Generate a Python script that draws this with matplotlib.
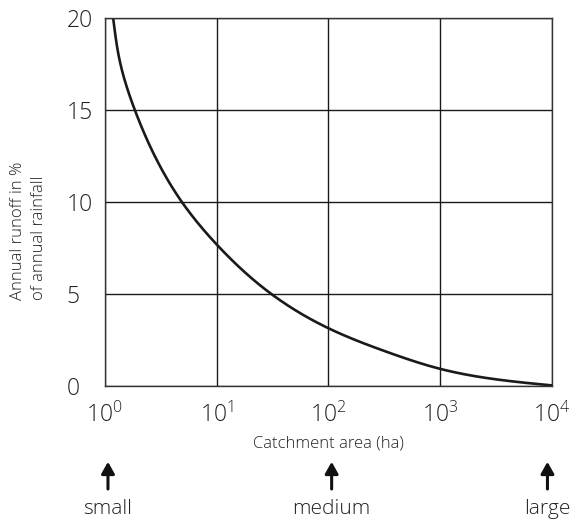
import numpy as np
import matplotlib
matplotlib.use("Agg")
import matplotlib.pyplot as plt

# curve
area = [1.19, 1.36, 1.86, 4.9, 10, 30.9, 100, 331, 1000, 3162, 10000]
runoff = [20, 17.7, 15, 10, 7.7, 5, 3.14, 1.86, 0.93, 0.36, 0.03]

xticks = [1, 10, 100, 1000, 10000]
xlabels = ["$10^{0}$", "$10^{1}$", "$10^{2}$", "$10^{3}$", "$10^{4}$"]
yticks = [0, 5, 10, 15, 20]

sizes = ["small", "medium", "large"]
size_pos = [1.07, 107, 9100]


def natural_spline(t, y, tn):
    """Natural cubic spline through (t, y)."""
    t = np.asarray(t, float)
    y = np.asarray(y, float)
    n = len(t)
    h = np.diff(t)
    d = np.diff(y) / h
    A = np.zeros((n, n))
    b = np.zeros(n)
    A[0, 0] = 1.0
    A[-1, -1] = 1.0
    for i in range(1, n - 1):
        A[i, i - 1] = h[i - 1]
        A[i, i] = 2 * (h[i - 1] + h[i])
        A[i, i + 1] = h[i]
        b[i] = 6 * (d[i] - d[i - 1])
    M = np.linalg.solve(A, b)
    out = np.empty_like(tn)
    for j, tv in enumerate(tn):
        k = int(np.clip(np.searchsorted(t, tv) - 1, 0, n - 2))
        a = t[k + 1] - tv
        c = tv - t[k]
        out[j] = (M[k] * a**3 / (6 * h[k]) + M[k + 1] * c**3 / (6 * h[k])
                  + (y[k] / h[k] - M[k] * h[k] / 6) * a
                  + (y[k + 1] / h[k] - M[k + 1] * h[k] / 6) * c)
    return out


plt.rcParams['font.family'] = ['Open Sans', 'DejaVu Sans']
plt.rcParams['font.weight'] = 'light'
plt.rcParams['mathtext.fontset'] = 'custom'
plt.rcParams['mathtext.rm'] = 'Open Sans:light'
plt.rcParams['mathtext.it'] = 'Open Sans:light'

fig = plt.figure(figsize=(5.73, 5.24), dpi=100)
ax = fig.add_axes([0.1827, 0.2634, 0.7807, 0.7022])

# smooth parametric curve (chord length in roughly screen-scaled units)
lx = np.log10(area)
px = lx * 112.0
py = np.asarray(runoff) * 18.4
t = np.concatenate([[0], np.cumsum(np.hypot(np.diff(px), np.diff(py)))])
tn = np.linspace(0, t[-1], 800)
xs = natural_spline(t, lx, tn)
ys = natural_spline(t, runoff, tn)
ax.plot(10**xs, ys, color='#1a1a1a', lw=1.9, solid_capstyle='butt')

ax.set_xscale('log')
ax.set_xlim(1, 10000)
ax.set_ylim(0, 20)
ax.set_xticks(xticks)
ax.set_xticklabels(xlabels)
ax.minorticks_off()
ax.set_yticks(yticks)
ax.tick_params(length=0, labelsize=16.5, colors='#222222')
ax.tick_params(axis='x', pad=12)
ax.tick_params(axis='y', pad=27.5)
for lab in ax.get_yticklabels():
    lab.set_ha('left')
ax.grid(True, color='#1a1a1a', lw=1.0)
for s in ax.spines.values():
    s.set_color('#333333')
    s.set_linewidth(1.0)

fig.text(0.5725, 0.153, "Catchment area (ha)", ha='center', va='center',
         fontsize=12, color='#222222')
fig.text(0.05, 0.4275, "Annual runoff in %\nof annual rainfall", ha='center',
         va='bottom', rotation=90, fontsize=12, color='#222222',
         linespacing=1.45, multialignment='left')

trans = ax.get_xaxis_transform()
for name, pos in zip(sizes, size_pos):
    ax.annotate("", xy=(pos, -0.206), xytext=(pos, -0.28), xycoords=trans,
                textcoords=trans,
                arrowprops=dict(arrowstyle='-|>,head_length=0.5,head_width=0.28',
                                color='#111111', lw=2.2,
                                mutation_scale=14, shrinkA=0, shrinkB=0))
    ax.text(pos, -0.335, name, transform=trans, ha='center', va='center',
            fontsize=15, color='#222222', clip_on=False)

fig.savefig("out.png", dpi=100)
